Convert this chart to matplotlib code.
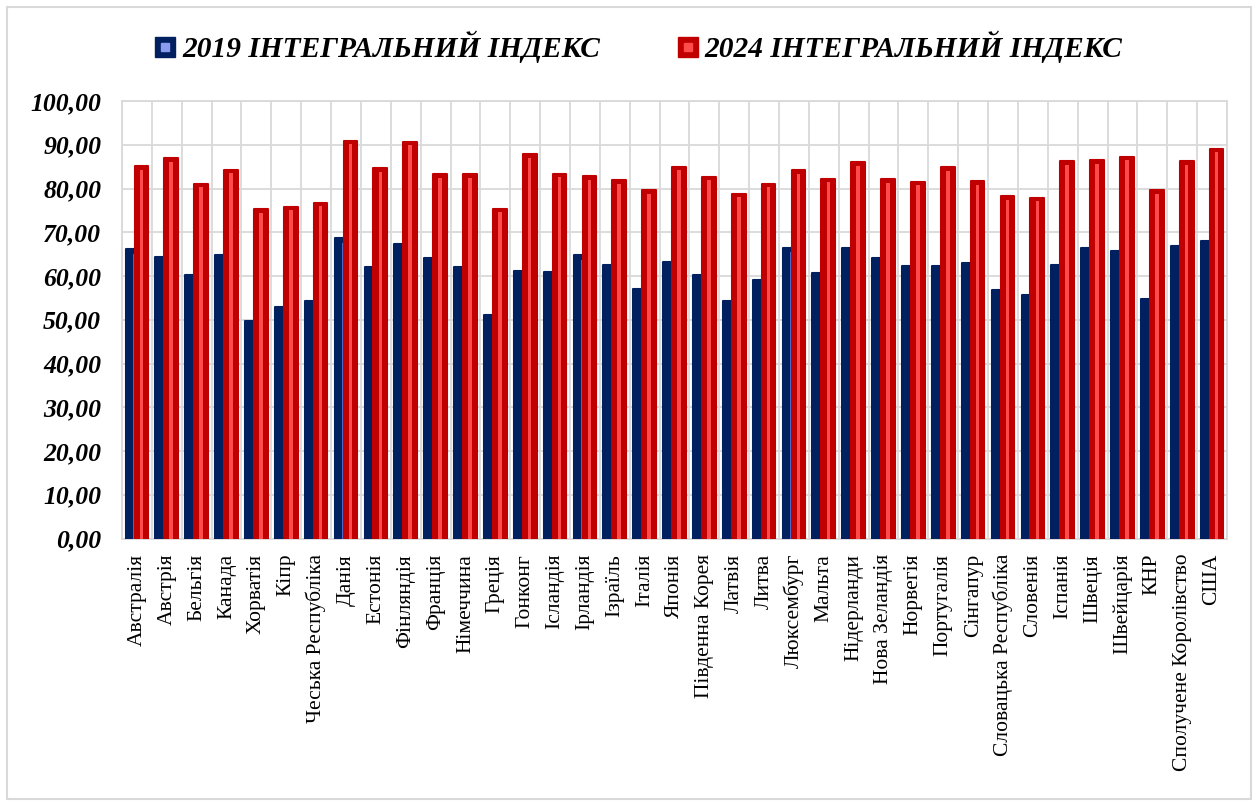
import matplotlib
matplotlib.use("Agg")
import matplotlib.pyplot as plt
import numpy as np
from matplotlib.lines import Line2D
from matplotlib.legend_handler import HandlerTuple
from matplotlib.patches import Rectangle

countries = ["Австралія", "Австрія", "Бельгія", "Канада", "Хорватія", "Кіпр",
             "Чеська Республіка", "Данія", "Естонія", "Фінляндія", "Франція",
             "Німеччина", "Греція", "Гонконг", "Ісландія", "Ірландія", "Ізраїль",
             "Італія", "Японія", "Південна Корея", "Латвія", "Литва", "Люксембург",
             "Мальта", "Нідерланди", "Нова Зеландія", "Норвегія", "Португалія",
             "Сінгапур", "Словацька Республіка", "Словенія", "Іспанія", "Швеція",
             "Швейцарія", "КНР", "Сполучене Королівство", "США"]

idx_2019 = [66.1, 64.4, 60.3, 64.7, 49.7, 52.9, 54.3, 68.6, 62.1, 67.3, 64.1,
            62.1, 51.2, 61.2, 60.9, 64.7, 62.6, 57.0, 63.2, 60.3, 54.4, 59.0,
            66.5, 60.7, 66.4, 64.1, 62.3, 62.3, 63.0, 56.7, 55.7, 62.5, 66.4,
            65.8, 54.7, 66.9, 68.1]

idx_2024 = [85.1, 86.9, 81.1, 84.3, 75.3, 75.8, 76.7, 90.9, 84.6, 90.7, 83.3,
            83.3, 75.4, 87.8, 83.4, 82.8, 81.9, 79.6, 85.0, 82.7, 78.8, 81.1,
            84.2, 82.2, 86.0, 82.1, 81.5, 84.9, 81.7, 78.2, 77.9, 86.2, 86.5,
            87.3, 79.6, 86.2, 89.1]

series_labels = ["2019 ІНТЕГРАЛЬНИЙ ІНДЕКС", "2024 ІНТЕГРАЛЬНИЙ ІНДЕКС"]
yticks = np.arange(0, 101, 10)

serif = ["Liberation Serif", "DejaVu Serif"]
plt.rcParams["font.family"] = serif

W, H = 1258, 806
fig = plt.figure(figsize=(W / 100, H / 100), dpi=100)
ax = fig.add_axes([122 / W, 1 - 538.5 / H, (1227 - 122) / W, (538.5 - 101) / H])

x = np.arange(len(countries))
bw = 0.46
off = 0.15

blue_dark, blue_light = "#002060", "#4A6BD0"
red_dark, red_light = "#C00000", "#FF4B4B"

ax.bar(x - off, idx_2019, width=bw, color=blue_dark, edgecolor=blue_dark,
       linewidth=1.5, joinstyle="round", zorder=3)
ax.bar(x - off + 0.05, np.array(idx_2019) - 1.0, width=0.035, color=blue_light,
       linewidth=0, zorder=3.1)
ax.bar(x + off, idx_2024, width=bw, color=red_dark, edgecolor=red_dark,
       linewidth=1.5, joinstyle="round", zorder=4)
ax.bar(x + off, np.array(idx_2024) - 0.8, width=0.12, color=red_light,
       linewidth=0, zorder=4.1)

ax.set_xlim(-0.5, len(countries) - 0.5)
ax.set_ylim(0, 100)
ax.set_yticks(yticks)
ax.set_yticklabels([f"{v:.2f}".replace(".", ",") for v in yticks],
                   fontsize=18.5, fontweight="bold", fontstyle="italic")
ax.set_xticks(x)
ax.set_xticklabels(countries, rotation=90, fontsize=15.5)
ax.set_xticks(np.arange(-0.5, len(countries), 1), minor=True)
ax.tick_params(axis="both", which="both", length=0)
ax.tick_params(axis="y", pad=15)
ax.tick_params(axis="x", pad=11)

ax.grid(axis="y", color="#D9D9D9", linewidth=1.3, zorder=0)
ax.grid(axis="x", which="minor", color="#D9D9D9", linewidth=1.3, zorder=0)
ax.grid(axis="x", which="major", visible=False)
for s in ["top", "right", "left", "bottom"]:
    ax.spines[s].set_color("#D9D9D9")
    ax.spines[s].set_linewidth(1.3)

h1 = (Line2D([], [], marker="s", markersize=15, color=blue_dark, linestyle="none"),
      Line2D([], [], marker="s", markersize=5.3, color="#8B9BF0", linestyle="none"))
h2 = (Line2D([], [], marker="s", markersize=15, color=red_dark, linestyle="none"),
      Line2D([], [], marker="s", markersize=6, color=red_light, linestyle="none"))
fig.legend([h1, h2], series_labels, handler_map={tuple: HandlerTuple(ndivide=1, pad=0)},
           loc="center", bbox_to_anchor=(638.5 / W, 1 - 47 / H), ncol=2, frameon=False,
           prop={"family": serif, "size": 21.2, "weight": "bold", "style": "italic"},
           handlelength=0.75, handletextpad=0.2, columnspacing=2.6)

border = Rectangle((7 / W, 7 / H), 1 - 14 / W, 1 - 14 / H,
                   transform=fig.transFigure, facecolor="none",
                   edgecolor="#D9D9D9", linewidth=1.5)
fig.patches.append(border)

fig.savefig("out.png", dpi=100)
